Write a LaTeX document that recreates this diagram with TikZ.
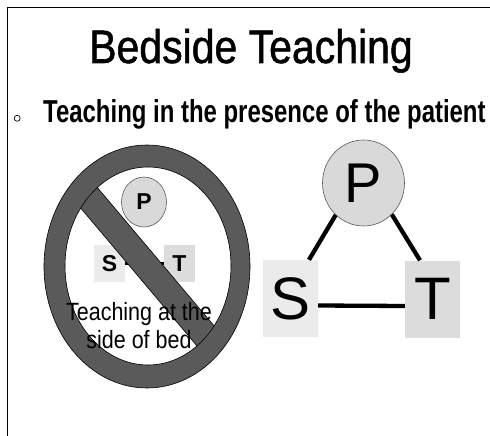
\documentclass[tikz,border=0pt]{standalone}
\usepackage{fontspec}
\setmainfont{Liberation Sans}
\newfontfamily\titlefont[FakeBold=1.2]{Liberation Sans}
\usetikzlibrary{shapes.geometric,calc}
\definecolor{signgray}{HTML}{5A5A5A}
\definecolor{pgray}{HTML}{D9D9D9}
\definecolor{sgray}{HTML}{EBEBEB}
\definecolor{tgray}{HTML}{DCDCDC}
\begin{document}
\begin{tikzpicture}[x=1pt,y=-1pt,
  txt/.style={inner sep=0pt, anchor=base},
  pcirc/.style={ellipse, draw=black!65, line width=0.6pt, fill=pgray, inner sep=0pt},
  sbox/.style={rectangle, fill=sgray, inner sep=0pt},
  tbox/.style={rectangle, fill=tgray, inner sep=0pt},
  link/.style={line width=4.3pt},
  signfill/.style={fill=signgray, draw=black, line width=0.6pt}]
\useasboundingbox (0,0) rectangle (490,436);
\fill[white] (0,0) rectangle (490,436);
\draw[line width=1.6pt] (7.5,436) -- (7.5,7.5) -- (490,7.5);
% title and bullet line
\node[txt] (title) at (251,63) {\scalebox{0.872}[1]{\fontsize{47}{50}\titlefont Bedside Teaching}};
\node[circle, draw, line width=0.7pt, minimum size=6pt, inner sep=0pt] (bullet) at (17.2,118.3) {};
\node[txt, anchor=base west] (sub) at (43,122) {\scalebox{0.755}[1]{\fontsize{31.7}{34}\selectfont\bfseries Teaching in the presence of the patient}};
% left (forbidden) figure
\node[pcirc, minimum width=45pt, minimum height=50pt, font=\fontsize{23}{23}\selectfont\bfseries] (sP) at (144,202) {P};
\node[sbox, minimum width=31pt, minimum height=37pt, font=\fontsize{23}{23}\selectfont\bfseries] (sS) at (109.5,263.5) {S};
\node[tbox, minimum width=31pt, minimum height=37pt, font=\fontsize{23}{23}\selectfont\bfseries] (sT) at (179.5,263.5) {T};
\draw[line width=3pt] (sS) -- (sT);
\coordinate (sc) at (147,266.5);
\coordinate (ic) at (148,266);
\fill[signgray, even odd rule] (sc) ellipse [x radius=103pt, y radius=121.5pt] (ic) ellipse [x radius=83pt, y radius=99pt];
\begin{scope}
  \clip (ic) ellipse [x radius=83pt, y radius=99pt];
  \path[signfill] ($(sc)+(-80.4,-115.4)$) -- ($(sc)+(100.2,98.6)$) -- ($(sc)+(80.4,115.4)$) -- ($(sc)+(-100.2,-98.6)$) -- cycle;
\end{scope}
\draw[line width=0.6pt] (sc) ellipse [x radius=103pt, y radius=121.5pt];
\draw[line width=0.6pt] (ic) ellipse [x radius=83pt, y radius=99pt];
\node[txt] (tx1) at (139,320) {\scalebox{0.86}[1]{\fontsize{25}{28}\selectfont Teaching at the}};
\node[txt] (tx2) at (139,348) {\scalebox{0.86}[1]{\fontsize{25}{28}\selectfont side of bed}};
% right figure
\node[pcirc, minimum width=82pt, minimum height=86pt, font=\fontsize{56}{56}\selectfont] (P) at (363.5,183) {P};
\node[sbox, minimum width=55pt, minimum height=77pt, font=\fontsize{60}{60}\selectfont] (S) at (290.5,298.5) {S};
\node[tbox, minimum width=55pt, minimum height=77pt, font=\fontsize{60}{60}\selectfont] (T) at (432.5,299) {T};
\draw[link] (P.229) -- ($(S.north)+(18.5,0)$);
\draw[link] (P.312.6) -- ($(T.north)+(-12.5,0)$);
\draw[link] ($(S.east)+(0,7)$) -- ($(T.west)+(0,7)$);
\end{tikzpicture}
\end{document}
